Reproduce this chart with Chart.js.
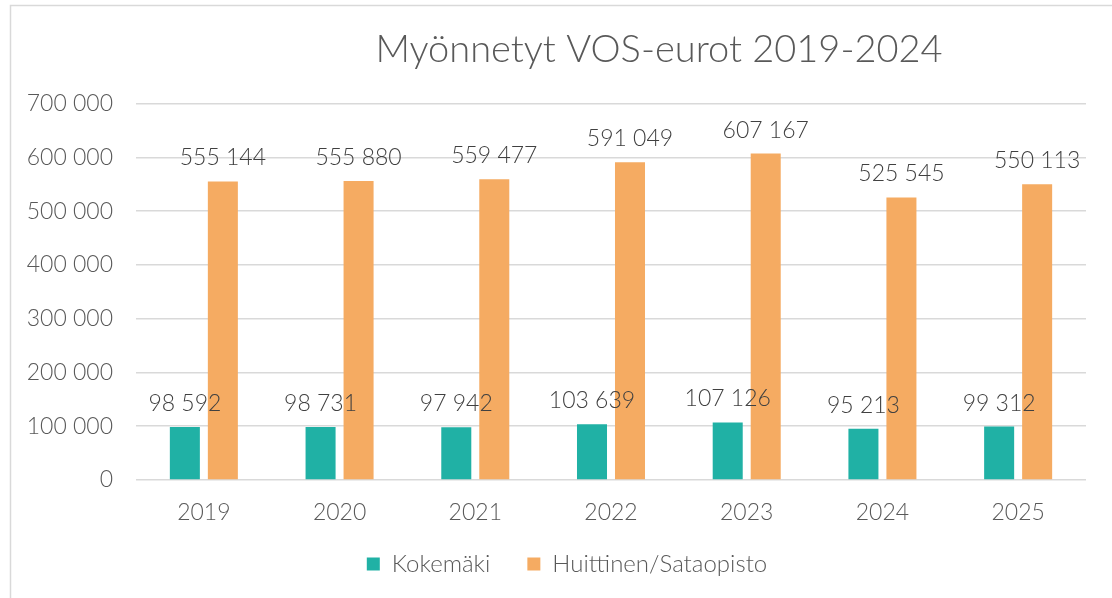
<!DOCTYPE html>
<html>
<head>
<meta charset="utf-8">
<script src="https://cdn.jsdelivr.net/npm/chart.js@4.4.1/dist/chart.umd.min.js"></script>
<style>
  html, body { margin: 0; padding: 0; background: #fff; }
  #wrap { position: relative; width: 1112px; height: 598px; }
</style>
</head>
<body>
<div id="wrap"><canvas id="c" width="1112" height="598"></canvas></div>
<script>
const categories = ['2019', '2020', '2021', '2022', '2023', '2024', '2025'];
const kokemaki = [98592, 98731, 97942, 103639, 107126, 95213, 99312];
const huittinen = [555144, 555880, 559477, 591049, 607167, 525545, 550113];
const seriesNames = ['Kokemäki', 'Huittinen/Sataopisto'];
const titleText = 'Myönnetyt VOS-eurot 2019-2024';

const FONT = "Lato, 'DejaVu Sans', sans-serif";
const fmt = v => String(Math.round(v)).replace(/\B(?=(\d{3})+(?!\d))/g, ' ');

const frame = {
  id: 'frame',
  beforeDraw(chart) {
    const ctx = chart.ctx;
    ctx.save();
    ctx.strokeStyle = '#d9d9d9';
    ctx.lineWidth = 1.5;
    ctx.strokeRect(10.5, 5.5, 1300, 800);
    ctx.restore();
  },
  afterLayout(chart) {
    if (chart.titleBlock) { chart.titleBlock.left = 232; }
    if (chart.legend) {
      chart.legend.left += 24;
      chart.legend.right += 24;
      chart.legend.top = 515;
    }
  }
};

const valueLabels = {
  id: 'valueLabels',
  afterDatasetsDraw(chart) {
    const ctx = chart.ctx;
    ctx.save();
    ctx.font = "300 23px " + FONT;
    ctx.fillStyle = '#404040';
    ctx.textAlign = 'center';
    ctx.textBaseline = 'alphabetic';
    chart.data.datasets.forEach((ds, i) => {
      chart.getDatasetMeta(i).data.forEach((bar, j) => {
        ctx.fillText(fmt(ds.data[j]), bar.x, bar.y - 16);
      });
    });
    ctx.restore();
  }
};

new Chart(document.getElementById('c'), {
  type: 'bar',
  data: {
    labels: categories,
    datasets: [
      { label: seriesNames[0], data: kokemaki, backgroundColor: '#20b1a5', barPercentage: 0.79, categoryPercentage: 0.56 },
      { label: seriesNames[1], data: huittinen, backgroundColor: '#f5ab62', barPercentage: 0.79, categoryPercentage: 0.56 }
    ]
  },
  options: {
    responsive: false,
    animation: false,
    layout: { padding: { left: 0, right: 26, top: 0, bottom: -1 } },
    plugins: {
      title: {
        display: true,
        text: titleText,
        color: '#595959',
        font: { family: FONT, size: 38, weight: '300' },
        padding: { top: 27, bottom: 31 }
      },
      legend: {
        position: 'bottom',
        labels: {
          color: '#595959',
          font: { family: FONT, size: 24, weight: '300' },
          boxWidth: 13,
          boxHeight: 13,
          padding: 37
        }
      },
      tooltip: { enabled: false }
    },
    scales: {
      x: {
        afterFit(scale) { scale.height = 48; },
        grid: { display: false, drawTicks: false },
        border: { display: false },
        ticks: { color: '#595959', font: { family: FONT, size: 23, weight: '300' }, padding: 19 }
      },
      y: {
        min: 0, max: 700000,
        afterFit(scale) { scale.width = 136; },
        grid: { color: '#d9d9d9', lineWidth: 1.5, drawTicks: false },
        border: { display: false },
        ticks: {
          stepSize: 100000,
          color: '#595959',
          font: { family: FONT, size: 23, weight: '300' },
          padding: 23,
          callback: v => fmt(v)
        }
      }
    }
  },
  plugins: [frame, valueLabels]
});
</script>
</body>
</html>
